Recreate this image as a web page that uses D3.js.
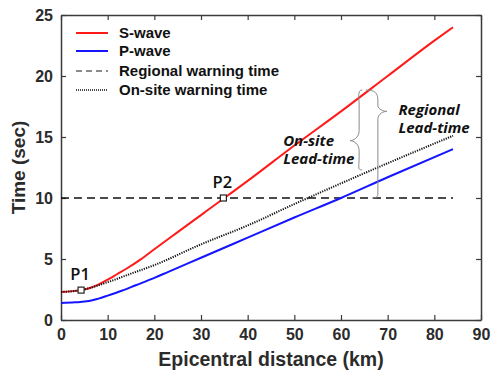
<!DOCTYPE html>
<html><head><meta charset="utf-8">
<script src="https://cdn.jsdelivr.net/npm/d3@7/dist/d3.min.js"></script>
<style>body{margin:0;background:#fff}svg{display:block}</style>
</head><body>
<svg id="c" width="491" height="373"></svg>
<script>
const sDist = [0, 4.3, 6, 8, 10, 12, 14, 17, 20, 25, 30, 35, 40, 50, 60, 70, 80, 84];
const sTime = [2.3, 2.45, 2.6, 2.9, 3.3, 3.75, 4.2, 4.95, 5.8, 7.2, 8.6, 10.0, 11.4, 14.3, 17.1, 20.0, 22.9, 24.0];
const pDist = [0, 3, 6, 8, 10, 13, 16, 20, 23, 30, 40, 50, 60, 70, 84];
const pTime = [1.4, 1.45, 1.55, 1.75, 2.0, 2.4, 2.85, 3.45, 3.95, 5.1, 6.75, 8.4, 10.0, 11.7, 14.0];
const oDist = [0, 4.3, 10, 15, 20, 30, 40, 50, 60, 70, 84];
const oTime = [2.3, 2.45, 3.1, 3.8, 4.5, 6.2, 7.75, 9.5, 11.2, 12.85, 15.1];
const regionalTime = 10;
const regionalRange = [0, 84];
const points = [{name: "P1", d: 4.3, t: 2.45}, {name: "P2", d: 34.8, t: 10}];
const xTicks = [0, 10, 20, 30, 40, 50, 60, 70, 80, 90];
const yTicks = [0, 5, 10, 15, 20, 25];
const legendLabels = ["S-wave", "P-wave", "Regional warning time", "On-site warning time"];

const svg = d3.select("#c");
const L = 61, R = 481, T = 15, B = 320;
const x = d3.scaleLinear().domain([0, 90]).range([L, R]);
const y = d3.scaleLinear().domain([0, 25]).range([B, T]);
const axisColor = "#3a3a3a";
const font = "'Liberation Sans', Arial, sans-serif";

const line = d3.line().x(d => x(d[0])).y(d => y(d[1])).curve(d3.curveMonotoneX);
const zip = (a, b) => a.map((v, i) => [v, b[i]]);

function styleAxis(g) {
  g.selectAll("path").attr("stroke", axisColor).attr("stroke-width", 1.5);
  g.selectAll("line").attr("stroke", axisColor).attr("stroke-width", 1.2);
  g.selectAll("text").attr("fill", "#2b2b2b").style("font-family", font)
    .style("font-weight", "bold").style("font-size", "16px");
}
svg.append("g").attr("transform", `translate(0,${B})`)
  .call(d3.axisBottom(x).tickValues(xTicks).tickSizeInner(-5).tickSizeOuter(0).tickPadding(9))
  .call(styleAxis);
svg.append("g").attr("transform", `translate(0,${T})`)
  .call(d3.axisTop(x).tickValues(xTicks).tickSizeInner(-5).tickSizeOuter(0).tickFormat(""))
  .call(styleAxis);
svg.append("g").attr("transform", `translate(${L},0)`)
  .call(d3.axisLeft(y).tickValues(yTicks).tickSizeInner(-5).tickSizeOuter(0).tickPadding(8))
  .call(styleAxis);
svg.append("g").attr("transform", `translate(${R},0)`)
  .call(d3.axisRight(y).tickValues(yTicks).tickSizeInner(-5).tickSizeOuter(0).tickFormat(""))
  .call(styleAxis);

svg.append("path")
  .attr("d", d3.line().x(d => x(d[0])).y(d => y(d[1]))(regionalRange.map(d => [d, regionalTime])))
  .attr("stroke", "#111").attr("stroke-width", 1.5).attr("stroke-dasharray", "8,5").attr("fill", "none");

svg.append("path").attr("d", line(zip(pDist, pTime)))
  .attr("stroke", "#1515ff").attr("stroke-width", 2).attr("fill", "none");
svg.append("path").attr("d", line(zip(sDist, sTime)))
  .attr("stroke", "#ff1a1a").attr("stroke-width", 2).attr("fill", "none");
svg.append("path").attr("d", line(zip(oDist, oTime)))
  .attr("stroke", "#111").attr("stroke-width", 2).attr("stroke-dasharray", "1.2,1.2").attr("fill", "none");

const braceColor = "#8a8a8a";
{
  const bx = x(64.1), top = y(18.85), bot = y(12.3), tip = y(14.7);
  const tx = bx - 10;
  const p = `M${bx + 2},${top} C${bx - 3},${top} ${bx - 1},${top + 8} ${bx - 1},${top + 14}
    L${bx - 1},${tip - 10} C${bx - 1},${tip - 3} ${tx + 3},${tip} ${tx},${tip}
    C${tx + 3},${tip} ${bx - 1},${tip + 3} ${bx - 1},${tip + 10}
    L${bx - 1},${bot - 12} C${bx - 1},${bot - 4} ${bx - 3},${bot} ${bx + 2},${bot}`;
  svg.append("path").attr("d", p).attr("stroke", braceColor).attr("stroke-width", 1).attr("fill", "none");
}
{
  const bx = x(67.9), top = y(18.85), bot = y(10), tip = y(17.1);
  const tx = bx + 9;
  const p = `M${bx - 12},${top} C${bx - 3},${top} ${bx},${top + 3} ${bx},${top + 10}
    L${bx},${tip - 6} C${bx},${tip - 2} ${tx - 3},${tip} ${tx},${tip}
    C${tx - 3},${tip} ${bx},${tip + 2} ${bx},${tip + 8}
    L${bx},${bot - 4} C${bx},${bot - 1} ${bx - 2},${bot} ${bx - 6},${bot}`;
  svg.append("path").attr("d", p).attr("stroke", braceColor).attr("stroke-width", 1).attr("fill", "none");
}

const annoFont = "'Open Sans', 'DejaVu Sans', sans-serif";
function anno(txt, dx, ty) {
  svg.append("text").attr("x", x(dx)).attr("y", y(ty)).text(txt)
    .style("font-family", annoFont).style("font-style", "italic").style("font-weight", "bold")
    .style("font-size", "15px").attr("fill", "#111");
}
anno("Regional", 72.3, 16.8);
anno("Lead-time", 72.3, 15.3);
anno("On-site", 47.6, 14.3);
anno("Lead-time", 47.6, 12.8);

points.forEach(p => {
  svg.append("rect").attr("x", x(p.d) - 3).attr("y", y(p.t) - 3).attr("width", 6).attr("height", 6)
    .attr("fill", "#fff").attr("stroke", "#222").attr("stroke-width", 1.2);
  svg.append("text").attr("x", x(p.d) - 1).attr("y", y(p.t) - 10).attr("text-anchor", "middle")
    .text(p.name).style("font-family", annoFont).style("font-weight", "600").style("font-size", "16.5px")
    .attr("fill", "#111");
});

const lg = svg.append("g");
const legendStyles = [
  {stroke: "#ff1a1a", dash: null, w: 2},
  {stroke: "#1515ff", dash: null, w: 2},
  {stroke: "#666", dash: "6,4", w: 1.3},
  {stroke: "#111", dash: "1,1", w: 1.5}
];
const rowY = [33, 51, 71, 90];
legendLabels.forEach((lab, i) => {
  const s = legendStyles[i];
  lg.append("line").attr("x1", 76).attr("x2", 108).attr("y1", rowY[i]).attr("y2", rowY[i])
    .attr("stroke", s.stroke).attr("stroke-width", s.w).attr("stroke-dasharray", s.dash);
  lg.append("text").attr("x", 119).attr("y", rowY[i] + 5).text(lab)
    .style("font-family", font).style("font-weight", "bold").style("font-size", "15px").attr("fill", "#111");
});

svg.append("text").attr("x", (L + R) / 2).attr("y", 366).attr("text-anchor", "middle")
  .text("Epicentral distance (km)").style("font-family", font).style("font-weight", "bold")
  .style("font-size", "19.5px").attr("fill", "#2b2b2b");
svg.append("text").attr("transform", `translate(25,${(T + B) / 2}) rotate(-90)`).attr("text-anchor", "middle")
  .text("Time (sec)").style("font-family", font).style("font-weight", "bold")
  .style("font-size", "19px").attr("fill", "#2b2b2b");
</script>
</body></html>
